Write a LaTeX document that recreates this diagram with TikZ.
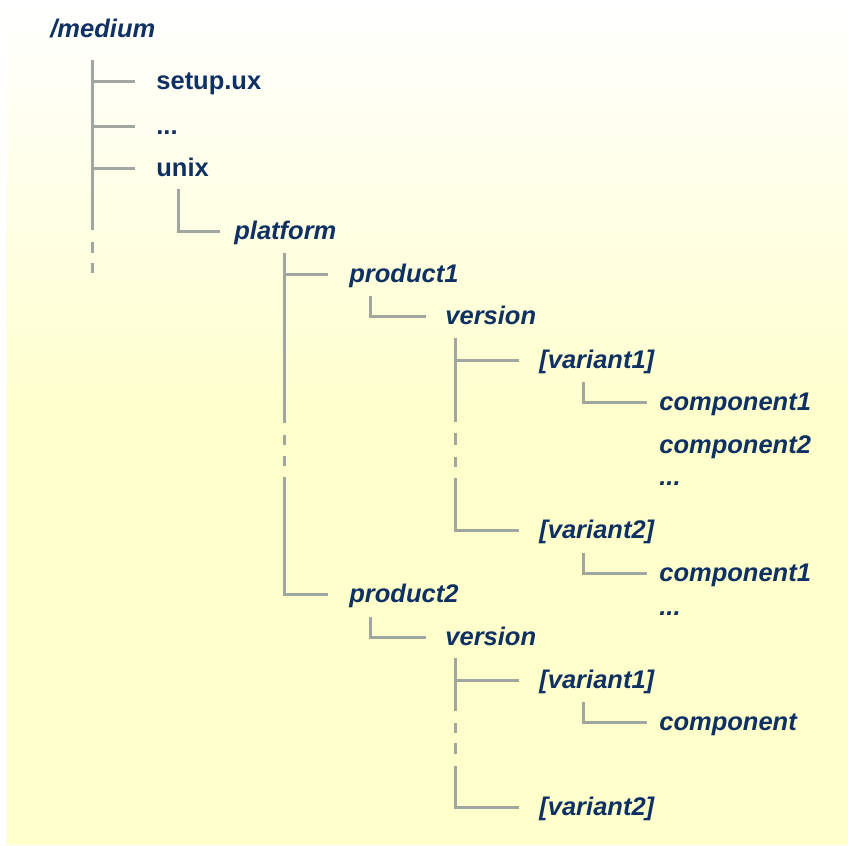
\documentclass[tikz,border=0pt]{standalone}
\usepackage{fontspec}
\setmainfont{Liberation Sans}
\usetikzlibrary{calc}
\definecolor{navy}{RGB}{14,48,98}
\definecolor{treegray}{RGB}{160,167,160}
\definecolor{paleyellow}{RGB}{255,255,204}
\newcommand\lowtxt[1]{\raisebox{-1.75pt}{#1}}
\tikzset{
  lbl/.style={anchor=mid west, inner sep=0pt, text=navy, font=\bfseries\itshape\fontsize{12.75}{15}\selectfont},
  ulbl/.style={lbl, font=\bfseries\fontsize{12.75}{15}\selectfont},
  tree/.style={draw=treegray, line width=1.5pt}
}
\begin{document}
\begin{tikzpicture}[x=0.5pt,y=-0.5pt]
\useasboundingbox (0,0) rectangle (848,846);
\fill[white] (0,0) rectangle (848,846);
\shade[top color=white, bottom color=paleyellow] (7,0) rectangle (848,420);
\fill[paleyellow] (7,419) rectangle (848,845);

% labels
\node[lbl]  (medium)   at (50,29)   {\lowtxt{/medium}};
\node[ulbl] (setup)    at (156,81)  {\lowtxt{setup.ux}};
\node[ulbl] (dotsA)    at (156,126) {\lowtxt{...}};
\node[ulbl] (unix)     at (156,168) {\lowtxt{unix}};
\node[lbl]  (platform) at (234,231) {\lowtxt{platform}};
\node[lbl]  (prodA)    at (349,274) {\lowtxt{product1}};
\node[lbl]  (verA)     at (445,316) {\lowtxt{version}};
\node[lbl]  (varAA)    at (539,360) {\lowtxt{[variant1]}};
\node[lbl]  (compAA)   at (659,402) {\lowtxt{component1}};
\node[lbl]  (compAB)   at (659,445) {\lowtxt{component2}};
\node[lbl]  (dotsB)    at (659,477) {\lowtxt{...}};
\node[lbl]  (varAB)    at (539,530) {\lowtxt{[variant2]}};
\node[lbl]  (compBA)   at (659,573) {\lowtxt{component1}};
\node[lbl]  (prodB)    at (349,594) {\lowtxt{product2}};
\node[lbl]  (dotsC)    at (659,607) {\lowtxt{...}};
\node[lbl]  (verB)     at (445,637) {\lowtxt{version}};
\node[lbl]  (varBA)    at (539,680) {\lowtxt{[variant1]}};
\node[lbl]  (compC)    at (659,722) {\lowtxt{component}};
\node[lbl]  (varBB)    at (539,807) {\lowtxt{[variant2]}};

% /medium trunk
\coordinate (mt) at (92,60);
\draw[tree] (mt) -- (92,230);
\draw[tree] (92,242) -- (92,253);
\draw[tree] (92,263) -- (92,273);
\draw[tree] (mt |- setup.mid west) -- ($(setup.mid west)+(-21,0)$);
\draw[tree] (mt |- dotsA.mid west) -- ($(dotsA.mid west)+(-21,0)$);
\draw[tree] (mt |- unix.mid west) -- ($(unix.mid west)+(-21,0)$);

% unix -> platform
\draw[tree] ($(unix.mid west)+(22,21)$) |- ($(platform.mid west)+(-14,0)$);

% platform trunk
\coordinate (pt) at (284,253);
\draw[tree] (pt) -- (284,423);
\draw[tree] (284,435) -- (284,445);
\draw[tree] (284,456) -- (284,466);
\draw[tree] (284,477) |- ($(prodB.mid west)+(-21,0)$);
\draw[tree] (pt |- prodA.mid west) -- ($(prodA.mid west)+(-21,0)$);

% product1 -> version
\draw[tree] ($(prodA.mid west)+(21,22)$) |- ($(verA.mid west)+(-19,0)$);

% version (product1) trunk
\coordinate (vt) at (455,338);
\draw[tree] (vt) -- (455,422);
\draw[tree] (455,433) -- (455,445);
\draw[tree] (455,457) -- (455,467);
\draw[tree] (455,478) |- ($(varAB.mid west)+(-20,0)$);
\draw[tree] (vt |- varAA.mid west) -- ($(varAA.mid west)+(-20,0)$);

% variants -> components
\draw[tree] ($(varAA.mid west)+(44,22)$) |- ($(compAA.mid west)+(-12,0)$);
\draw[tree] ($(varAB.mid west)+(44,23)$) |- ($(compBA.mid west)+(-12,0)$);

% product2 -> version
\draw[tree] ($(prodB.mid west)+(21,23)$) |- ($(verB.mid west)+(-19,0)$);

% version (product2) trunk
\coordinate (wt) at (455,658);
\draw[tree] (wt) -- (455,711);
\draw[tree] (455,723) -- (455,733);
\draw[tree] (455,743) -- (455,754);
\draw[tree] (455,766) |- ($(varBB.mid west)+(-20,0)$);
\draw[tree] (wt |- varBA.mid west) -- ($(varBA.mid west)+(-20,0)$);
\draw[tree] ($(varBA.mid west)+(44,22)$) |- ($(compC.mid west)+(-12,0)$);
\end{tikzpicture}
\end{document}
